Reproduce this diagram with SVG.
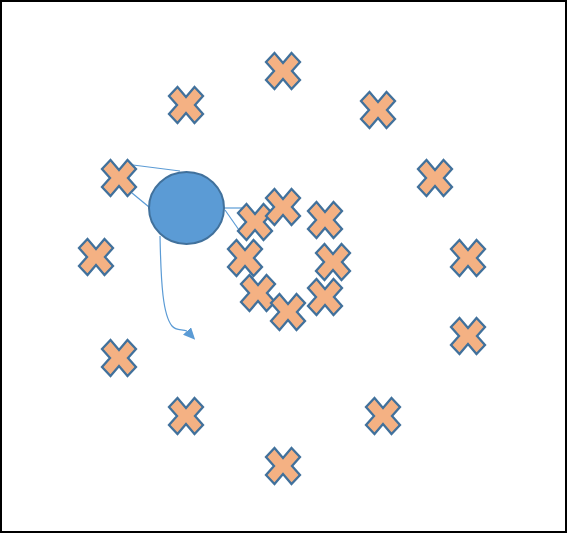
<svg xmlns="http://www.w3.org/2000/svg" xmlns:xlink="http://www.w3.org/1999/xlink" width="567" height="533" viewBox="0 0 567 533">
<style>
.x{fill:#F4B183;stroke:#41719C;stroke-width:2.3;stroke-linejoin:miter}
.c{fill:#5B9BD5;stroke:#41719C;stroke-width:2}
.l{fill:none;stroke:#5B9BD5;stroke-width:1.2}
</style>
<defs>
<polygon id="xs" points="-8.5,-18 0,-8 8.5,-18 17,-9 9,0 17,9 8.5,18 0,8 -8.5,18 -17,9 -9,0 -17,-9"/>
<marker id="ah" viewBox="0 0 12 11" refX="0" refY="5.5" markerWidth="12" markerHeight="11" markerUnits="userSpaceOnUse" orient="47">
<path d="M0,0 L12,5.5 L0,11 z" fill="#5B9BD5"/>
</marker>
</defs>
<rect x="1" y="1" width="565" height="531" fill="#fff" stroke="#000" stroke-width="2"/>
<g id="connectors">
<path class="l" d="M133,165 L180,171"/>
<path class="l" d="M132,193 L149,207"/>
<path class="l" d="M224,208 L243,208"/>
<path class="l" d="M225,210 L239,230"/>
<path class="l" d="M160,236 C161,285 163,315 172,326 C176,331 182,329 187,331" marker-end="url(#ah)"/>
</g>
<g id="o1"><use xlink:href="#xs" class="x" x="283" y="71"/></g>
<g id="o2"><use xlink:href="#xs" class="x" x="378" y="110"/></g>
<g id="o3"><use xlink:href="#xs" class="x" x="435" y="178"/></g>
<g id="o4"><use xlink:href="#xs" class="x" x="468" y="258"/></g>
<g id="o5"><use xlink:href="#xs" class="x" x="468" y="336"/></g>
<g id="o6"><use xlink:href="#xs" class="x" x="383" y="416"/></g>
<g id="o7"><use xlink:href="#xs" class="x" x="283" y="466"/></g>
<g id="o8"><use xlink:href="#xs" class="x" x="186" y="416"/></g>
<g id="o9"><use xlink:href="#xs" class="x" x="119" y="358"/></g>
<g id="o10"><use xlink:href="#xs" class="x" x="96" y="257"/></g>
<g id="o11"><use xlink:href="#xs" class="x" x="119" y="178"/></g>
<g id="o12"><use xlink:href="#xs" class="x" x="186" y="105"/></g>
<g id="i1"><use xlink:href="#xs" class="x" x="255" y="222"/></g>
<g id="i2"><use xlink:href="#xs" class="x" x="283" y="207"/></g>
<g id="i3"><use xlink:href="#xs" class="x" x="325" y="220"/></g>
<g id="i4"><use xlink:href="#xs" class="x" x="245" y="258"/></g>
<g id="i5"><use xlink:href="#xs" class="x" x="333" y="262"/></g>
<g id="i6"><use xlink:href="#xs" class="x" x="258" y="293"/></g>
<g id="i7"><use xlink:href="#xs" class="x" x="325" y="297"/></g>
<g id="i8"><use xlink:href="#xs" class="x" x="288" y="312"/></g>
<g id="ball"><ellipse class="c" cx="186.5" cy="208" rx="37.5" ry="36"/></g>
</svg>
